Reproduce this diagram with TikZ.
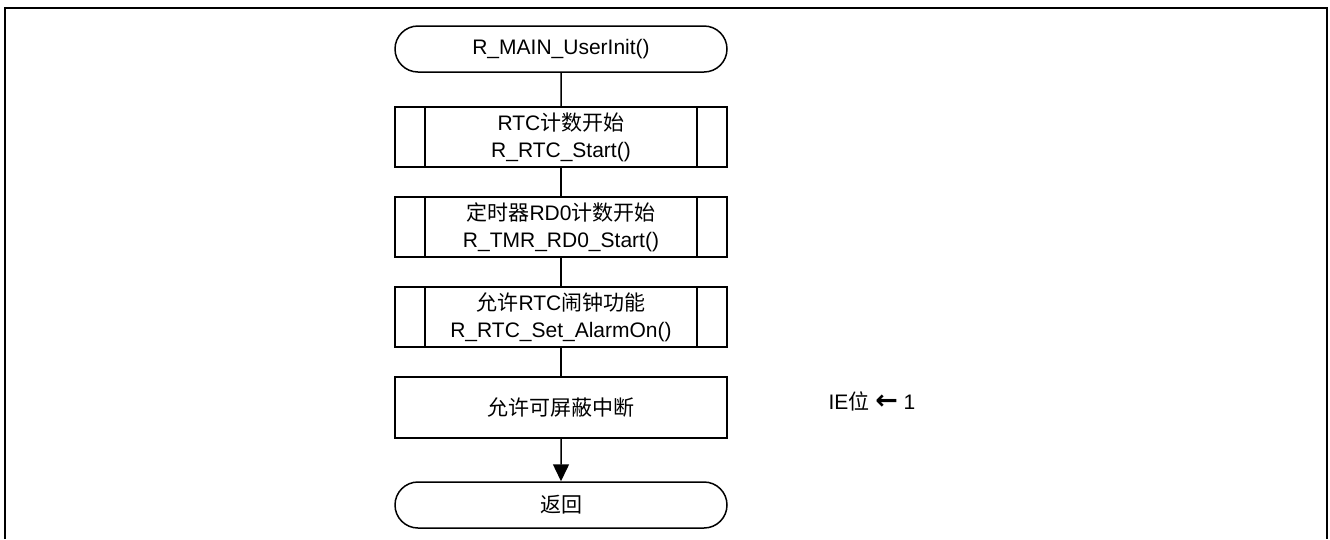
\documentclass[tikz,border=0pt]{standalone}
\usepackage{fontspec}
\setmainfont{Liberation Sans}
\newfontfamily\cjk{Noto Sans CJK SC}
\newfontfamily\arrowfont{DejaVu Sans}
\usetikzlibrary{arrows.meta, shapes.misc}

\begin{document}
\begin{tikzpicture}[
    x=1pt, y=-1pt,
    every node/.style={font=\fontsize{21}{27}\selectfont, align=center},
    term/.style={draw, rounded rectangle, line width=1.5pt, minimum width=332pt, minimum height=46pt, inner sep=0pt},
    proc/.style={draw, line width=1.5pt, minimum width=332pt, minimum height=60pt, inner sep=0pt},
    sub/.style={proc, path picture={
        \draw[line width=1.5pt] ([xshift=30pt]path picture bounding box.north west) -- ([xshift=30pt]path picture bounding box.south west)
            ([xshift=-30pt]path picture bounding box.north east) -- ([xshift=-30pt]path picture bounding box.south east);}},
    conn/.style={line width=1.5pt},
    arr/.style={-{Triangle[length=17pt, width=16pt]}, line width=1.5pt},
]
\useasboundingbox (0,0) rectangle (1330,539);

% outer frame
\draw[line width=2pt] (5,539) -- (5,7.5) -- (1327,7.5) -- (1327,539);

% === flow ===
\node[term] at (561, 49) (start) {R\_MAIN\_UserInit()};
\node[sub] at (561, 137) (rtc) {RTC{\cjk 计数开始}\\R\_RTC\_Start()};
\node[sub] at (561, 227) (tmr) {{\cjk 定时器}RD0{\cjk 计数开始}\\R\_TMR\_RD0\_Start()};
\node[sub] at (561, 317) (alarm) {{\cjk 允许}RTC{\cjk 闹钟功能}\\R\_RTC\_Set\_AlarmOn()};
\node[proc, minimum height=61pt] at (561, 407.5) (ie) {{\cjk 允许可屏蔽中断}};
\node[term] at (561, 505) (ret) {{\cjk 返回}};

% note
\node at (872, 401) (ielabel) {IE{\cjk 位} {\arrowfont\bfseries\fontsize{27}{27}\selectfont ←} 1};

\draw[conn] (start) -- (rtc);
\draw[conn] (rtc) -- (tmr);
\draw[conn] (tmr) -- (alarm);
\draw[conn] (alarm) -- (ie);
\draw[arr] (ie) -- (ret);

\end{tikzpicture}
\end{document}
